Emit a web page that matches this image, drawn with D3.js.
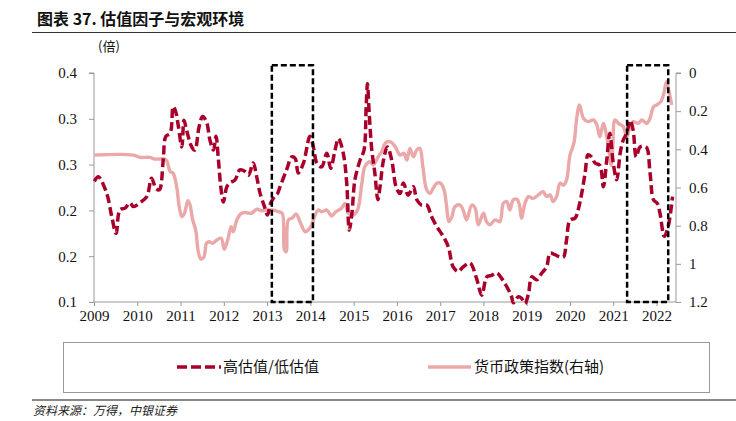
<!DOCTYPE html>
<html lang="zh">
<head>
<meta charset="UTF-8">
<title>估值因子与宏观环境</title>
<script src="https://d3js.org/d3.v7.min.js"></script>
<style>
  body { margin: 0; background: #fff; }
  .axis text { font-family: "Liberation Serif", "DejaVu Serif", serif; font-size: 15px; fill: #111; }
  .axis path, .axis line { stroke: #999; }
  .cjk { font-family: "Noto Sans CJK SC", sans-serif; }
</style>
</head>
<body>
<div id="chart"></div>
<script>
// 高估值/低估值 (left axis), decimal year + value
const valT = [2009.01,2009.10,2009.29,2009.41,2009.51,2009.60,2009.72,2009.83,2009.91,2010.06,2010.22,2010.33,2010.43,2010.51,2010.60,2010.66,2010.76,2010.83,2010.89,2010.95,
  2011.03,2011.08,2011.14,2011.26,2011.33,2011.43,2011.51,2011.60,2011.68,2011.76,2011.82,2011.87,2011.93,2011.99,2012.07,2012.14,2012.26,2012.37,2012.49,2012.57,
  2012.68,2012.76,2012.84,2012.94,2013.01,2013.08,2013.17,2013.24,2013.30,2013.45,2013.57,2013.65,2013.72,2013.84,2013.99,2014.07,2014.15,2014.26,2014.38,2014.47,
  2014.57,2014.65,2014.76,2014.84,2014.90,2014.96,2015.03,2015.15,2015.24,2015.29,2015.32,2015.36,2015.42,2015.49,2015.56,2015.61,2015.69,2015.78,2015.88,2015.98,
  2016.07,2016.15,2016.26,2016.38,2016.46,2016.57,2016.69,2016.80,2016.92,2017.07,2017.19,2017.30,2017.42,2017.53,2017.69,2017.84,2017.96,2018.08,2018.19,2018.31,
  2018.42,2018.54,2018.65,2018.69,2018.81,2018.88,2018.96,2019.04,2019.12,2019.23,2019.35,2019.46,2019.54,2019.65,2019.77,2019.85,2019.92,2020.00,2020.12,2020.19,
  2020.27,2020.35,2020.42,2020.50,2020.58,2020.69,2020.77,2020.85,2020.92,2021.00,2021.08,2021.16,2021.23,2021.31,2021.39,2021.46,2021.53,2021.62,2021.76,2021.85,
  2021.93,2022.02,2022.08,2022.18,2022.27,2022.37];
const valV = [0.258,0.264,0.243,0.212,0.190,0.221,0.223,0.230,0.225,0.230,0.238,0.262,0.249,0.247,0.286,0.317,0.321,0.356,0.349,0.330,
  0.303,0.338,0.325,0.303,0.299,0.330,0.343,0.336,0.312,0.299,0.317,0.290,0.251,0.231,0.251,0.256,0.260,0.273,0.271,0.266,
  0.282,0.264,0.242,0.225,0.214,0.229,0.238,0.242,0.251,0.273,0.290,0.288,0.269,0.282,0.317,0.303,0.282,0.277,0.295,0.275,
  0.299,0.314,0.295,0.256,0.194,0.216,0.260,0.286,0.299,0.356,0.386,0.347,0.299,0.269,0.234,0.251,0.286,0.303,0.286,0.251,
  0.242,0.256,0.240,0.251,0.234,0.227,0.227,0.212,0.199,0.186,0.172,0.146,0.140,0.146,0.151,0.131,0.109,0.133,0.135,0.138,
  0.131,0.120,0.107,0.099,0.107,0.105,0.098,0.111,0.133,0.129,0.138,0.146,0.164,0.162,0.159,0.159,0.181,0.207,0.210,0.221,
  0.242,0.269,0.293,0.290,0.282,0.279,0.251,0.286,0.321,0.282,0.260,0.295,0.312,0.321,0.338,0.325,0.290,0.303,0.303,0.269,
  0.234,0.229,0.216,0.186,0.199,0.238];

// 货币政策指数 (right axis, reversed)
const mpT = [2009.01,2009.91,2010.06,2010.29,2010.41,2010.64,2010.69,2010.76,2010.83,2010.91,2010.97,2011.03,2011.09,2011.17,2011.22,2011.28,2011.35,2011.41,2011.47,2011.54,
  2011.60,2011.66,2011.74,2011.84,2011.94,2012.01,2012.09,2012.17,2012.22,2012.30,2012.41,2012.53,2012.64,2012.76,2012.88,2012.99,2013.14,2013.26,2013.35,2013.40,
  2013.44,2013.49,2013.58,2013.67,2013.76,2013.88,2013.95,2014.03,2014.11,2014.18,2014.26,2014.38,2014.49,2014.59,2014.72,2014.80,2014.88,2014.99,2015.09,2015.19,
  2015.26,2015.38,2015.45,2015.57,2015.65,2015.73,2015.84,2015.96,2016.07,2016.16,2016.23,2016.30,2016.38,2016.46,2016.53,2016.60,2016.69,2016.77,2016.84,2016.92,
  2017.01,2017.09,2017.15,2017.20,2017.27,2017.34,2017.46,2017.53,2017.61,2017.73,2017.81,2017.88,2018.00,2018.07,2018.15,2018.27,2018.38,2018.46,2018.54,2018.61,
  2018.69,2018.78,2018.84,2018.88,2018.96,2019.04,2019.15,2019.27,2019.38,2019.46,2019.54,2019.61,2019.69,2019.77,2019.85,2019.92,2020.00,2020.09,2020.16,2020.22,
  2020.31,2020.42,2020.54,2020.62,2020.69,2020.77,2020.85,2020.91,2020.95,2020.99,2021.04,2021.12,2021.23,2021.31,2021.39,2021.46,2021.58,2021.66,2021.77,2021.85,
  2021.93,2022.00,2022.10,2022.17,2022.23,2022.29,2022.35];
const mpV = [0.430,0.430,0.442,0.442,0.451,0.451,0.465,0.517,0.526,0.596,0.701,0.753,0.735,0.669,0.692,0.770,0.823,0.936,0.975,0.963,
  0.892,0.884,0.892,0.875,0.866,0.924,0.875,0.805,0.832,0.770,0.735,0.732,0.735,0.714,0.722,0.718,0.718,0.727,0.735,0.927,
  0.936,0.770,0.760,0.739,0.779,0.832,0.823,0.796,0.744,0.718,0.727,0.718,0.749,0.727,0.709,0.683,0.735,0.744,0.718,0.578,
  0.491,0.465,0.482,0.439,0.412,0.368,0.360,0.386,0.430,0.421,0.456,0.395,0.439,0.403,0.395,0.491,0.613,0.630,0.604,0.578,
  0.578,0.613,0.701,0.779,0.753,0.701,0.692,0.718,0.770,0.692,0.709,0.796,0.735,0.779,0.796,0.770,0.779,0.683,0.674,0.718,
  0.665,0.662,0.701,0.761,0.683,0.648,0.657,0.639,0.622,0.648,0.639,0.674,0.648,0.578,0.587,0.561,0.430,0.368,0.229,0.168,
  0.237,0.255,0.246,0.272,0.334,0.264,0.334,0.421,0.482,0.386,0.246,0.264,0.281,0.334,0.281,0.255,0.264,0.246,0.264,0.237,
  0.177,0.168,0.150,0.106,0.046,0.098,0.168];

const years = d3.range(2009, 2023);
const leftTicks = [0.1, 0.16, 0.22, 0.28, 0.34, 0.4];
const rightTicks = [0, 0.2, 0.4, 0.6, 0.8, 1, 1.2];
const boxes = [[2013.11, 2014.06], [2021.32, 2022.27]];

const W = 736, H = 421;
const m = { left: 94, right: 60, top: 73, bottom: 119 };
const RED = "#a8002a", PINK = "#eba8a8";

const svg = d3.select("#chart").append("svg")
  .attr("width", W).attr("height", H);

const x = d3.scaleLinear().domain([2009, 2022.45]).range([m.left, W - m.right]);
const yL = d3.scaleLinear().domain([0.1, 0.4]).range([H - m.bottom, m.top]);
const yR = d3.scaleLinear().domain([0, 1.2]).range([m.top, H - m.bottom]);

// title
svg.append("text").attr("class", "cjk")
  .attr("x", 37).attr("y", 25)
  .attr("font-size", 16).attr("font-weight", 700).attr("fill", "#111")
  .text("图表 37. 估值因子与宏观环境");
svg.append("line").attr("x1", 32).attr("x2", W).attr("y1", 32.5).attr("y2", 32.5)
  .attr("stroke", "#333").attr("stroke-width", 1);
svg.append("text").attr("class", "cjk")
  .attr("x", 98).attr("y", 51).attr("font-size", 13).attr("fill", "#111")
  .text("(倍)");

// axes
svg.append("g").attr("class", "axis")
  .attr("transform", `translate(${m.left},0)`)
  .call(d3.axisLeft(yL).tickValues(leftTicks).tickFormat(d3.format(".1f")).tickSize(5).tickPadding(12))
  .call(g => g.select(".domain").attr("d", `M-5,${yL(0.4)}H0V${yL(0.1)}`));

svg.append("g").attr("class", "axis")
  .attr("transform", `translate(${W - m.right},0)`)
  .call(d3.axisRight(yR).tickValues(rightTicks).tickFormat(d => d3.format("~g")(d)).tickSize(5).tickPadding(8))
  .call(g => g.select(".domain").attr("d", `M5,${yR(0)}H0V${yR(1.2)}`));

svg.append("g").attr("class", "axis")
  .attr("transform", `translate(0,${H - m.bottom})`)
  .call(d3.axisBottom(x).tickValues(years).tickFormat(d3.format("d")).tickSize(4).tickPadding(4))
  .call(g => g.select(".domain").attr("d", `M${x.range()[0]},0H${x.range()[1]}`));

// series
const lineL = d3.line().x((d, i) => x(valT[i])).y(d => yL(d)).curve(d3.curveCatmullRom.alpha(0.5));
const lineR = d3.line().x((d, i) => x(mpT[i])).y(d => yR(d)).curve(d3.curveCatmullRom.alpha(0.5));

svg.append("path").datum(mpV)
  .attr("d", lineR).attr("fill", "none")
  .attr("stroke", PINK).attr("stroke-width", 3.4).attr("stroke-linejoin", "round");

svg.append("path").datum(valV)
  .attr("d", lineL).attr("fill", "none")
  .attr("stroke", RED).attr("stroke-width", 3.5).attr("stroke-dasharray", "9,4");

// highlight boxes
svg.selectAll(".hl").data(boxes).enter().append("rect")
  .attr("class", "hl")
  .attr("x", d => x(d[0])).attr("width", d => x(d[1]) - x(d[0]))
  .attr("y", yL(0.41)).attr("height", yL(0.1) - yL(0.41))
  .attr("fill", "none").attr("stroke", "#000").attr("stroke-width", 2.5)
  .attr("stroke-dasharray", "6,3");

// legend
svg.append("rect").attr("x", 63.5).attr("y", 342.5).attr("width", 646).attr("height", 50)
  .attr("fill", "none").attr("stroke", "#999");
const ly = 367;
svg.append("line").attr("x1", 177).attr("x2", 221).attr("y1", ly).attr("y2", ly)
  .attr("stroke", RED).attr("stroke-width", 3.5).attr("stroke-dasharray", "10,4");
svg.append("text").attr("class", "cjk").attr("x", 223).attr("y", ly + 5)
  .attr("font-size", 15).attr("fill", "#111").text("高估值/低估值");
svg.append("line").attr("x1", 428).attr("x2", 471).attr("y1", ly).attr("y2", ly)
  .attr("stroke", PINK).attr("stroke-width", 3.4);
svg.append("text").attr("class", "cjk").attr("x", 474).attr("y", ly + 5)
  .attr("font-size", 15).attr("fill", "#111").text("货币政策指数(右轴)");

// footer
svg.append("line").attr("x1", 32).attr("x2", W).attr("y1", 400).attr("y2", 400)
  .attr("stroke", "#888").attr("stroke-width", 2);
svg.append("text").attr("class", "cjk").attr("x", 33).attr("y", 415)
  .attr("font-size", 12).attr("font-style", "italic").attr("fill", "#222")
  .text("资料来源：万得，中银证券");
</script>
</body>
</html>
